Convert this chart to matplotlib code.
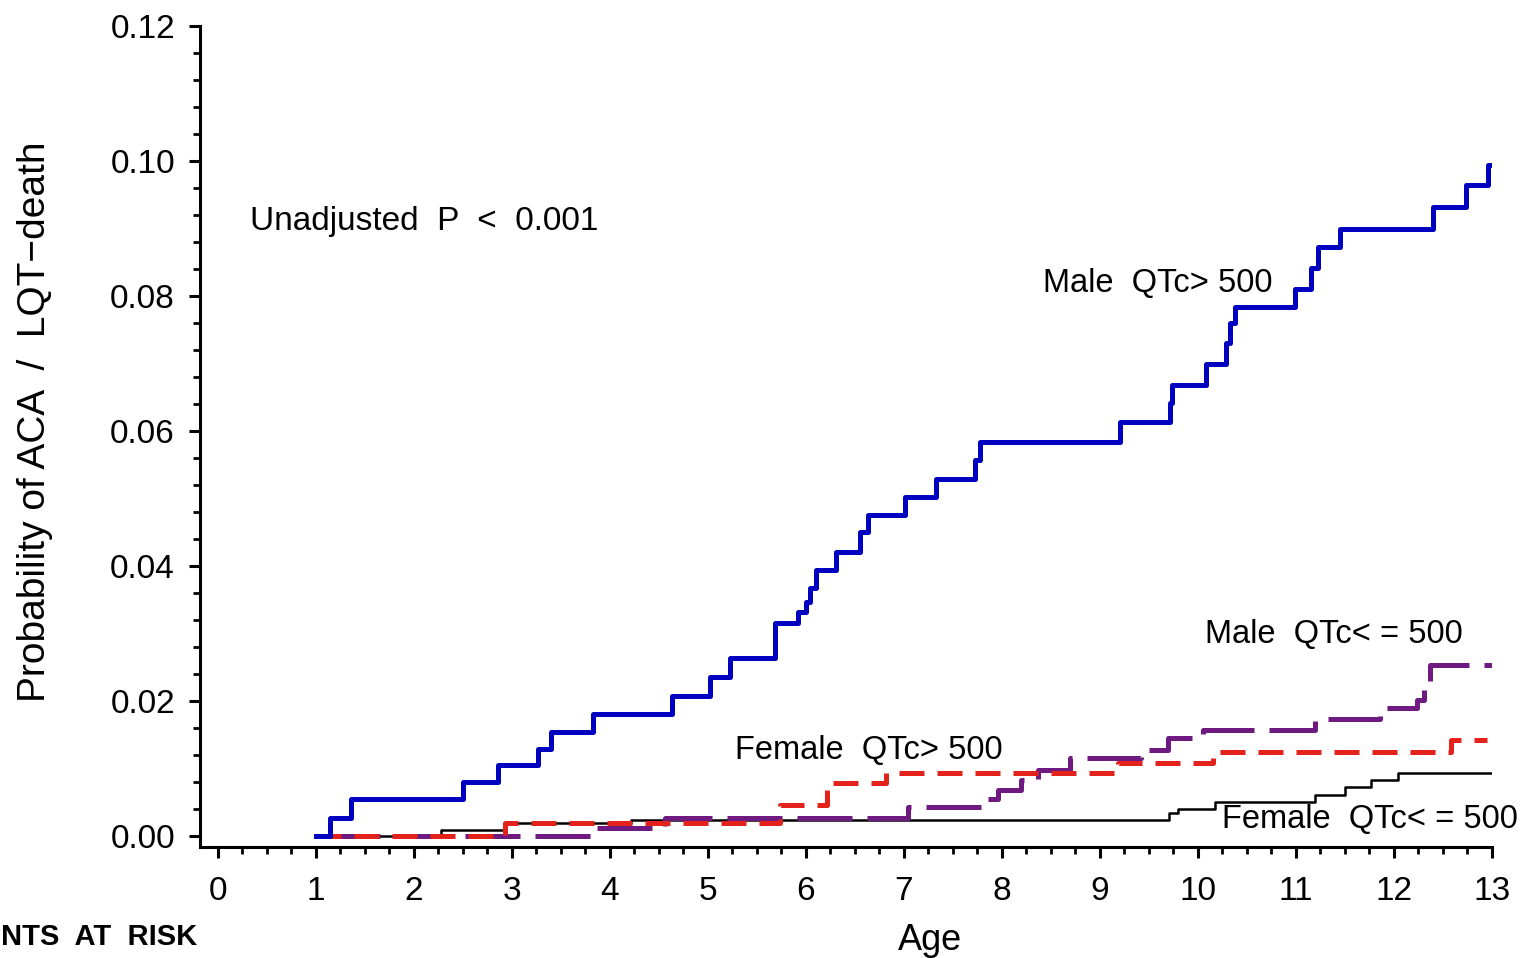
import numpy as np
import matplotlib.pyplot as plt
from matplotlib.ticker import MultipleLocator, FormatStrFormatter

plt.rcParams['font.family'] = ['Liberation Sans', 'DejaVu Sans']

# Kaplan-Meier style cumulative probability
male_hi_age = [1.0, 1.15, 1.36, 2.5, 2.86, 3.27, 3.4, 3.83, 4.64, 5.02, 5.23, 5.69,
               5.92, 6.0, 6.04, 6.1, 6.31, 6.55, 6.63, 7.01, 7.33, 7.73, 7.78, 9.21,
               9.72, 9.74, 10.08, 10.29, 10.33, 10.38, 10.99, 11.15, 11.22, 11.45,
               12.4, 12.73, 12.96, 12.98]
male_hi_p = [0.0, 0.0027, 0.0055, 0.008, 0.0105, 0.0129, 0.0154, 0.0181, 0.0207, 0.0236,
             0.0264, 0.0316, 0.0332, 0.0347, 0.0367, 0.0394, 0.0421, 0.045, 0.0476,
             0.0502, 0.0529, 0.0557, 0.0584, 0.0613, 0.0641, 0.0668, 0.070, 0.073,
             0.076, 0.0784, 0.081, 0.0841, 0.0873, 0.090, 0.0932, 0.0964, 0.0994, 0.0994]

male_lo_age = [1.1, 3.8, 4.56, 7.04, 7.86, 7.96, 8.2, 8.37, 8.7, 9.42, 9.69, 10.05,
               11.19, 11.86, 12.24, 12.31, 12.37, 13.0]
male_lo_p = [0.0, 0.0012, 0.0027, 0.0043, 0.0055, 0.0068, 0.0083, 0.0098, 0.0116,
             0.0127, 0.0145, 0.0157, 0.0173, 0.019, 0.0201, 0.0224, 0.0253, 0.0253]

fem_hi_age = [1.0, 2.93, 5.74, 6.22, 6.82, 9.18, 10.15, 12.58, 12.95]
fem_hi_p = [0.0, 0.0019, 0.0046, 0.0079, 0.0093, 0.0108, 0.0124, 0.0142, 0.0142]

fem_lo_age = [1.0, 2.28, 2.93, 4.22, 9.71, 9.8, 10.17, 11.19, 11.5, 11.77, 12.04, 13.0]
fem_lo_p = [0.0, 0.0009, 0.0019, 0.0024, 0.0034, 0.0041, 0.005, 0.0061, 0.0073,
            0.0083, 0.0093, 0.0093]

fig = plt.figure(figsize=(15.37, 9.58), dpi=100)
ax = fig.add_axes([200/1537, 1-847/958, (1492-200)/1537, (847-26)/958])

ax.step(fem_lo_age, fem_lo_p, where='post', color='black', lw=1.8)
ax.step(male_lo_age, male_lo_p, where='post', color='#6e1a80', lw=3.6,
        dashes=(11, 3))
ax.step(fem_hi_age, fem_hi_p, where='post', color='#e3221b', lw=3.6,
        dashes=(5, 2.6))
ax.step(male_hi_age, male_hi_p, where='post', color='#0000c0', lw=3.6)

ax.set_xlim(-0.18, 13)
ax.set_ylim(-0.0016, 0.12)
ax.spines['top'].set_visible(False)
ax.spines['right'].set_visible(False)
for s in ['left', 'bottom']:
    ax.spines[s].set_linewidth(2.2)

ax.xaxis.set_major_locator(MultipleLocator(1))
ax.xaxis.set_minor_locator(MultipleLocator(0.25))
ax.yaxis.set_major_locator(MultipleLocator(0.02))
ax.yaxis.set_minor_locator(MultipleLocator(0.004))
ax.yaxis.set_major_formatter(FormatStrFormatter('%.2f'))
ax.tick_params(which='major', length=8, width=2.2, labelsize=24, pad=10)
ax.tick_params(axis='x', which='major', pad=13)
ax.tick_params(which='minor', length=5, width=2.0)

ax.set_xlabel('Age', fontsize=26)
ax.xaxis.set_label_coords((930-200)/1292, -(940-847)/821)
ax.xaxis.label.set_va('center')
ax.set_ylabel('Probability of ACA  /  LQT\u2212death', fontsize=28)
ax.yaxis.set_label_coords(-(200-35)/1292, (847-422)/821)
ax.yaxis.label.set_va('center')

ax.text(0.33, 0.091, 'Unadjusted  P  <  0.001', fontsize=24, va='center')
ax.text(8.42, 0.0819, 'Male  QTc> 500', fontsize=23.5, va='center')
ax.text(10.07, 0.0298, 'Male  QTc< = 500', fontsize=23.5, va='center')
ax.text(5.28, 0.0127, 'Female  QTc> 500', fontsize=23.5, va='center')
ax.text(10.25, 0.0024, 'Female  QTc< = 500', fontsize=23.5, va='center', clip_on=False)

fig.text(197/1537, 1-937/958, 'NTS  AT  RISK', fontsize=21, fontweight='bold',
         ha='right', va='center')

fig.savefig('out.png', dpi=100)
